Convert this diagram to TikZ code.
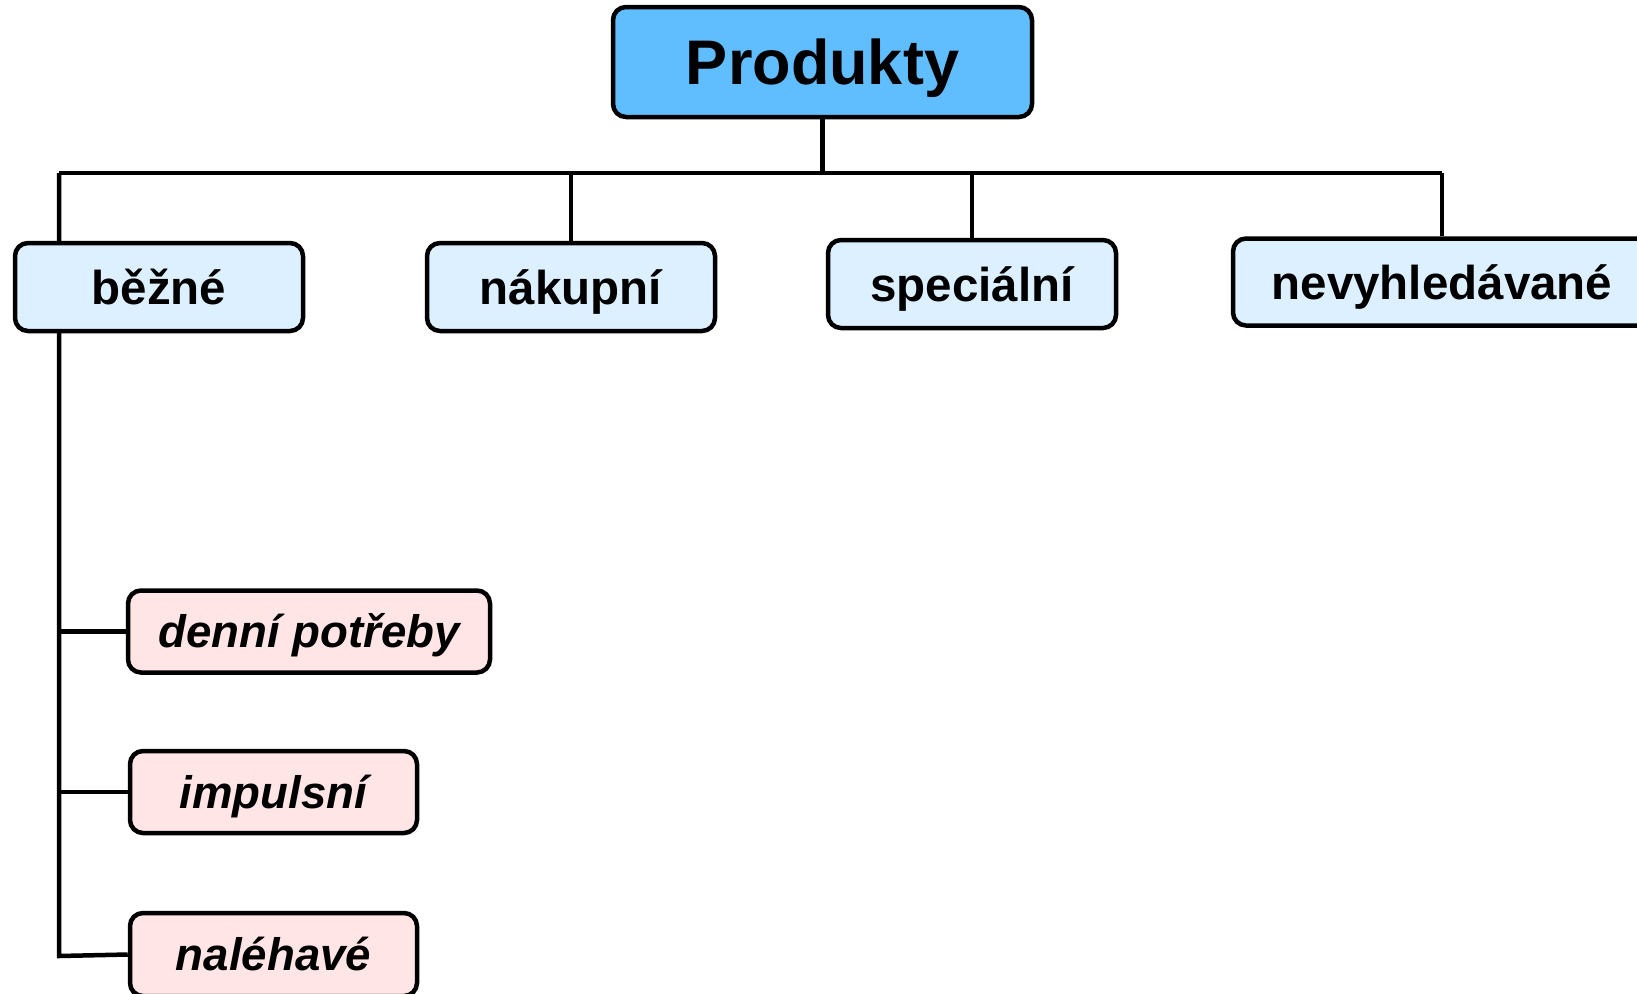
\documentclass[tikz,border=0pt]{standalone}
\usepackage{fontspec}
\setmainfont{Liberation Sans}
\usetikzlibrary{backgrounds}
\definecolor{topblue}{HTML}{60BEFF}
\definecolor{midblue}{HTML}{DDF0FF}
\definecolor{leafpink}{HTML}{FFE5E5}
\tikzset{
  box/.style={draw=black, line width=4.5pt, rounded corners=13pt, inner sep=0pt, align=center, text depth=0pt},
  topbox/.style={box, fill=topblue, text height=45pt, font=\fontsize{63}{70}\selectfont\bfseries},
  midbox/.style={box, fill=midblue, minimum width=288pt, minimum height=88pt, text height=34pt, font=\fontsize{47.5}{52}\selectfont\bfseries},
  leafbox/.style={box, fill=leafpink, minimum height=82pt, text height=32.5pt, font=\fontsize{45.6}{50}\selectfont\bfseries\itshape},
  conn/.style={draw=black, line width=4.5pt}
}
\begin{document}
\begin{tikzpicture}[x=1pt, y=-1pt]
\useasboundingbox (0,0) rectangle (1637,993);
\coordinate (bL) at (59,173);
\coordinate (bR) at (1442,173);
\coordinate (tEnd) at (59,956);

\node[topbox, minimum width=419pt, minimum height=110pt] (P) at (822.5,62) {Produkty};
\node[midbox] (bez) at (159,287) {běžné};
\node[midbox] (nak) at (571,287) {nákupní};
\node[midbox] (spe) at (972,284) {speciální};
\node[midbox, minimum width=418pt, minimum height=87pt] (nev) at (1442,282) {nevyhledávané};
\node[leafbox, minimum width=362pt] (den) at (309,631.5) {denní potřeby};
\node[leafbox, minimum width=287pt] (imp) at (273.5,792) {impulsní};
\node[leafbox, minimum width=287pt, minimum height=83pt] (nal) at (273.5,954.5) {naléhavé};

\begin{pgfonlayer}{background}
\fill[white] (0,0) rectangle (1637,993);
\draw[conn] (P.south) -- (P.south |- bL);
\draw[conn] (bL) -- (bR);
\draw[conn] (nak.north |- bL) -- (nak.north);
\draw[conn] (spe.north |- bL) -- (spe.north);
\draw[conn] (bR) -- (nev.north -| bR);
\draw[conn] (bL) -- (tEnd) -- (nal.west);
\draw[conn] (den.west -| bL) -- (den.west);
\draw[conn] (imp.west -| bL) -- (imp.west);
\end{pgfonlayer}
\end{tikzpicture}
\end{document}
